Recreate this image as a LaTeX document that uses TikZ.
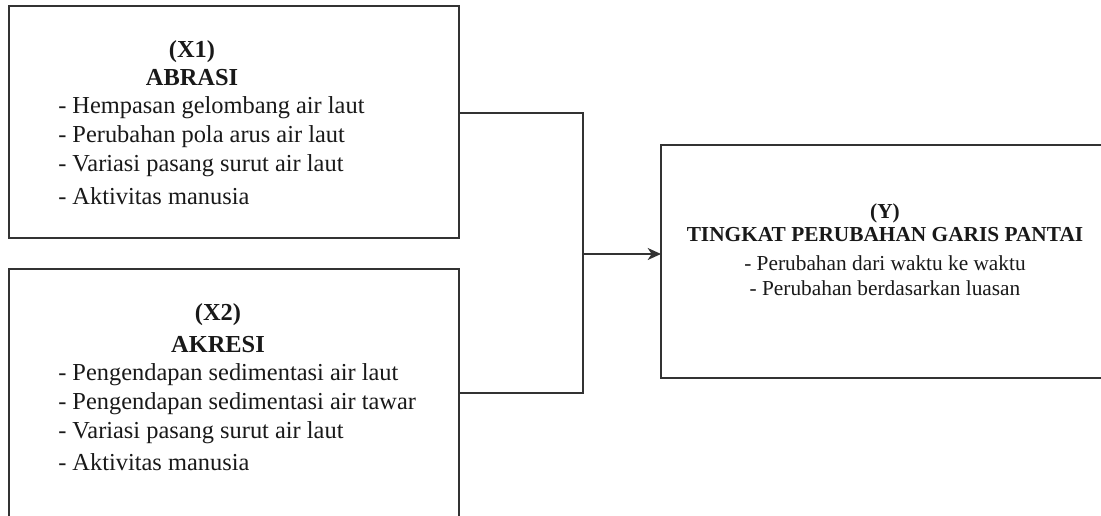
\documentclass[tikz,border=0pt]{standalone}
\usepackage{fontspec}
\setmainfont{Liberation Serif}
\usetikzlibrary{arrows.meta}
\begin{document}
\begin{tikzpicture}[x=0.75pt,y=-0.75pt,
  box/.style={draw=black!80, line width=1pt, inner sep=0pt, outer sep=0pt, anchor=north west},
  xhead/.style={font=\fontsize{18.3}{22}\selectfont\bfseries, inner sep=0pt, text=black!90},
  xline/.style={font=\fontsize{18.3}{22}\selectfont, inner sep=0pt, anchor=west, text=black!90},
  yhead/.style={font=\fontsize{16}{19}\selectfont\bfseries, inner sep=0pt, text=black!90},
  yline/.style={font=\fontsize{16}{19}\selectfont, inner sep=0pt, text=black!90},
  conn/.style={draw=black!80, line width=1pt},
  arr/.style={conn, -{Stealth[length=10pt,width=9pt,inset=3pt]}}]
\useasboundingbox (0,0) rectangle (1101,516);
\clip (0,0) rectangle (1101,516);
\fill[white] (0,0) rectangle (1101,516);

% boxes
\node[box, minimum width=337.5pt, minimum height=174pt] (x1) at (9,6) {};
\node[box, minimum width=337.5pt, minimum height=205pt] (x2) at (9,269) {};
\node[box, minimum width=336pt, minimum height=174.75pt] (y) at (661,145) {};

% X1 text
\node[xhead] (x1a) at (192,52) {(X1)};
\node[xhead] (x1b) at (192,78) {ABRASI};
\node[xline] (x1c) at (58,108) {- Hempasan gelombang air laut};
\node[xline] (x1d) at (58,137) {- Perubahan pola arus air laut};
\node[xline] (x1e) at (58,166) {- Variasi pasang surut air laut};
\node[xline] (x1f) at (58,196) {- Aktivitas manusia};

% X2 text
\node[xhead] (x2a) at (218,315) {(X2)};
\node[xhead] (x2b) at (218,345) {AKRESI};
\node[xline] (x2c) at (58,375) {- Pengendapan sedimentasi air laut};
\node[xline] (x2d) at (58,404) {- Pengendapan sedimentasi air tawar};
\node[xline] (x2e) at (58,433) {- Variasi pasang surut air laut};
\node[xline] (x2f) at (58,462) {- Aktivitas manusia};

% Y text
\node[yhead] (ya) at (885,213) {(Y)};
\node[yhead] (yb) at (885,235) {TINGKAT PERUBAHAN GARIS PANTAI};
\node[yline] (yc) at (885,263) {- Perubahan dari waktu ke waktu};
\node[yline] (yd) at (885,288) {- Perubahan berdasarkan luasan};

% connectors
\coordinate (j1) at (583,113);
\coordinate (j2) at (583,393);
\coordinate (jm) at (583,254);
\draw[conn] (x1.east |- j1) -- (j1) -- (j2) -- (x2.east |- j2);
\draw[arr] (jm) -- (y.west |- jm);
\end{tikzpicture}
\end{document}
